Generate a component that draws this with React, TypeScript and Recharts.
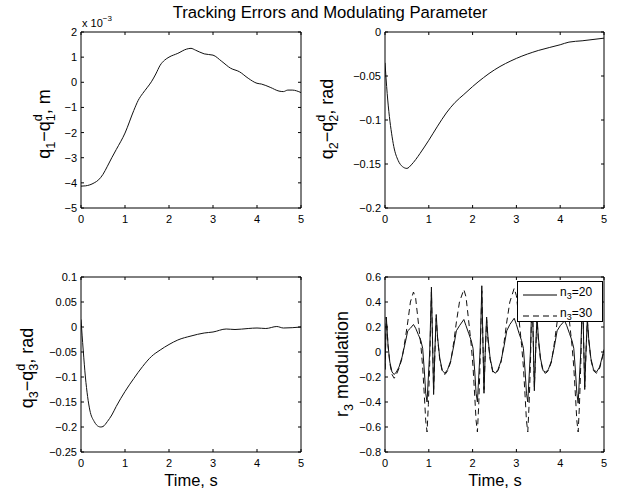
import { Legend, Line, LineChart, XAxis, YAxis } from 'recharts';

const W = 623;
const H = 490;
const FONT = '"Liberation Sans", Arial, Helvetica, sans-serif';

const X_TICKS = [0, 1, 2, 3, 4, 5];

// panel 1: q1 - q1d (x 10^-3 m)
const T1 = [0, 0.1, 0.2, 0.3, 0.4, 0.5, 0.6, 0.7, 0.8, 1.0, 1.2, 1.3, 1.4, 1.5, 1.6, 1.7, 1.8, 1.9, 2.0, 2.2, 2.4, 2.5, 2.6, 2.8, 3.0, 3.2, 3.4, 3.6, 3.8, 4.0, 4.1, 4.3, 4.5, 4.6, 4.7, 4.8, 5.0];
const Q1 = [-4.13, -4.12, -4.08, -4.0, -3.88, -3.66, -3.34, -3.0, -2.68, -2.02, -1.12, -0.72, -0.45, -0.22, 0.02, 0.33, 0.68, 0.88, 1.0, 1.15, 1.32, 1.35, 1.28, 1.13, 1.08, 0.83, 0.56, 0.42, 0.16, -0.04, -0.07, -0.2, -0.35, -0.37, -0.31, -0.31, -0.41];
const Y1_TICKS = [2, 1, 0, -1, -2, -3, -4, -5];

// panel 2: q2 - q2d (rad)
const T2 = [0, 0.05, 0.1, 0.15, 0.2, 0.3, 0.4, 0.5, 0.6, 0.7, 0.8, 1.0, 1.2, 1.4, 1.6, 1.8, 2.0, 2.5, 3.0, 3.5, 4.0, 4.2, 4.5, 5.0];
const Q2 = [-0.035, -0.07, -0.096, -0.115, -0.13, -0.146, -0.153, -0.155, -0.151, -0.145, -0.138, -0.123, -0.107, -0.092, -0.08, -0.071, -0.062, -0.043, -0.03, -0.021, -0.0145, -0.0115, -0.01, -0.007];
const Y2_TICKS = [0, -0.05, -0.1, -0.15, -0.2];

// panel 3: q3 - q3d (rad)
const T3 = [0, 0.05, 0.1, 0.15, 0.2, 0.3, 0.4, 0.45, 0.5, 0.6, 0.7, 0.8, 1.0, 1.2, 1.4, 1.6, 1.8, 2.0, 2.2, 2.5, 2.8, 3.0, 3.3, 3.5, 3.8, 4.0, 4.2, 4.45, 4.6, 5.0];
const Q3 = [0.015, -0.046, -0.1, -0.139, -0.166, -0.189, -0.199, -0.2, -0.199, -0.189, -0.176, -0.159, -0.129, -0.103, -0.079, -0.059, -0.046, -0.035, -0.026, -0.018, -0.012, -0.01, -0.004, -0.005, -0.003, -0.002, -0.003, 0.001, -0.002, 0];
const Y3_TICKS = [0.1, 0.05, 0, -0.05, -0.1, -0.15, -0.2, -0.25];

// panel 4: r3 modulation for n3 = 20 (solid) and n3 = 30 (dashed)
const N3 = [20, 30];
const T4 = [
  0, 0.03, 0.07, 0.11, 0.16, 0.21, 0.26, 0.32, 0.39, 0.46, 0.52, 0.58, 0.65, 0.7, 0.76, 0.82, 0.86, 0.9, 0.93, 0.96, 0.99, 1.02, 1.04, 1.06, 1.09, 1.11, 1.14, 1.17, 1.2, 1.25, 1.31, 1.37, 1.43, 1.5,
  1.57, 1.63, 1.7, 1.8, 1.85, 1.91, 1.97, 2.01, 2.05, 2.08, 2.11, 2.14, 2.17, 2.19, 2.21, 2.24, 2.26, 2.29, 2.32, 2.35, 2.4, 2.46, 2.52, 2.58, 2.65,
  2.72, 2.78, 2.85, 2.95, 3.0, 3.06, 3.12, 3.16, 3.2, 3.23, 3.26, 3.29, 3.32, 3.34, 3.36, 3.39, 3.41, 3.44, 3.47, 3.5, 3.55, 3.61, 3.67, 3.73, 3.8,
  3.87, 3.93, 4.0, 4.1, 4.15, 4.21, 4.27, 4.31, 4.35, 4.38, 4.41, 4.44, 4.47, 4.49, 4.51, 4.54, 4.56, 4.59, 4.62, 4.65, 4.7, 4.76, 4.83, 4.9, 4.96, 5.0,
];
const R20 = [
  -0.14, 0.28, 0.05, -0.08, -0.16, -0.18, -0.16, -0.12, -0.04, 0.07, 0.17, 0.19, 0.22, 0.19, 0.14, 0.09, 0.03, -0.16, -0.33, -0.4, -0.2, 0.0, 0.25, 0.52, 0.0, -0.34, 0.02, 0.3, 0.12, -0.05, -0.15, -0.17, -0.14, -0.07,
  0.05, 0.17, 0.21, 0.26, 0.21, 0.15, 0.09, 0.03, -0.16, -0.33, -0.4, -0.2, 0.0, 0.25, 0.53, 0.0, -0.33, 0.02, 0.28, 0.12, -0.05, -0.15, -0.17, -0.14, -0.07,
  0.05, 0.17, 0.22, 0.27, 0.22, 0.15, 0.09, 0.03, -0.16, -0.33, -0.4, -0.2, 0.0, 0.25, 0.52, 0.0, -0.31, 0.02, 0.29, 0.12, -0.05, -0.15, -0.16, -0.14, -0.07,
  0.05, 0.17, 0.21, 0.25, 0.21, 0.15, 0.09, 0.03, -0.16, -0.33, -0.41, -0.2, 0.0, 0.25, 0.5, 0.0, -0.3, 0.02, 0.27, 0.11, -0.05, -0.14, -0.16, -0.12, -0.04, 0.02,
];
const R30 = [
  -0.14, 0.28, 0.05, -0.09, -0.18, -0.21, -0.18, -0.13, -0.05, 0.1, 0.24, 0.4, 0.48, 0.43, 0.24, 0.05, -0.12, -0.36, -0.55, -0.64, -0.42, -0.1, 0.2, 0.48, 0.02, -0.3, 0.0, 0.27, 0.11, -0.06, -0.16, -0.18, -0.15, -0.08,
  0.08, 0.24, 0.4, 0.5, 0.44, 0.25, 0.05, -0.12, -0.36, -0.55, -0.64, -0.42, -0.1, 0.2, 0.49, 0.02, -0.3, 0.0, 0.26, 0.1, -0.06, -0.16, -0.17, -0.15, -0.08,
  0.08, 0.24, 0.4, 0.51, 0.45, 0.26, 0.05, -0.12, -0.36, -0.55, -0.64, -0.42, -0.1, 0.2, 0.48, 0.02, -0.28, 0.0, 0.27, 0.1, -0.06, -0.16, -0.17, -0.15, -0.08,
  0.08, 0.24, 0.4, 0.5, 0.44, 0.25, 0.05, -0.12, -0.36, -0.55, -0.64, -0.42, -0.1, 0.2, 0.47, 0.02, -0.28, 0.0, 0.25, 0.1, -0.06, -0.15, -0.17, -0.13, -0.05, 0.01,
];
const Y4_TICKS = [0.6, 0.4, 0.2, 0, -0.2, -0.4, -0.6, -0.8];

const data1 = T1.map((t, i) => ({ t, v: Q1[i] }));
const data2 = T2.map((t, i) => ({ t, v: Q2[i] }));
const data3 = T3.map((t, i) => ({ t, v: Q3[i] }));
const data4 = T4.map((t, i) => ({ t, a: R20[i], b: R30[i] }));

const fmt = (v: number) => String(v).replace('-', '\u2212');
const TL = 3; // inward tick length

function BottomTick({ x, y, payload }: any) {
  return (
    <g>
      <line x1={x} x2={x} y1={y} y2={y - TL} stroke="#000" />
      <text x={x} y={y + 15} textAnchor="middle" fontSize={11} fill="#000">{fmt(payload.value)}</text>
    </g>
  );
}
function TopTick({ x, y }: any) {
  return <line x1={x} x2={x} y1={y} y2={y + TL} stroke="#000" />;
}
function LeftTick({ x, y, payload }: any) {
  return (
    <g>
      <line x1={x} x2={x + TL} y1={y} y2={y} stroke="#000" />
      <text x={x - 4} y={y + 4} textAnchor="end" fontSize={11} fill="#000">{fmt(payload.value)}</text>
    </g>
  );
}
function RightTick({ x, y }: any) {
  return <line x1={x} x2={x - TL} y1={y} y2={y} stroke="#000" />;
}

type Box = { left: number; top: number; right: number; bottom: number };

function Panel({ data, box, domain, ticks, series, legend }: any) {
  const b: Box = box;
  const common = { type: 'number' as const, allowDataOverflow: true, interval: 0 as const, tickSize: 0, tickMargin: 0, tickLine: false, stroke: '#000' };
  return (
    <div style={{ position: 'absolute', left: 0, top: 0 }}>
      <LineChart width={W} height={H} data={data} margin={{ top: b.top - 1, left: b.left - 1, right: W - b.right - 1, bottom: H - b.bottom - 1 }}>
        <XAxis dataKey="t" domain={[0, 5]} ticks={X_TICKS} height={1} tick={BottomTick} {...common} />
        <XAxis xAxisId="top" orientation="top" dataKey="t" domain={[0, 5]} ticks={X_TICKS} height={1} tick={TopTick} {...common} />
        <YAxis domain={domain} ticks={ticks} width={1} tick={LeftTick} {...common} />
        <YAxis yAxisId="right" orientation="right" domain={domain} ticks={ticks} width={1} tick={RightTick} {...common} />
        {series.map((s: any) => (
          <Line
            key={s.key}
            dataKey={s.key}
            name={s.name}
            type={s.curve}
            stroke="#111"
            strokeWidth={1}
            strokeDasharray={s.dash}
            dot={false}
            isAnimationActive={false}
          />
        ))}
        {legend}
      </LineChart>
    </div>
  );
}

function LegendBox({ payload }: any) {
  return (
    <svg width={86} height={41} style={{ display: 'block', fontFamily: FONT }}>
      <rect x={0.5} y={0.5} width={85} height={40} fill="#fff" stroke="#000" />
      {(payload || []).map((e: any, i: number) => {
        const y = 14 + i * 21;
        return (
          <g key={i}>
            <line x1={6} x2={40} y1={y} y2={y} stroke="#000" strokeDasharray={e.payload?.strokeDasharray} />
            <text x={43} y={y + 1} fontSize={12} fill="#000">
              n<tspan fontSize={9} dy={3}>3</tspan><tspan dy={-3}>={N3[i]}</tspan>
            </text>
          </g>
        );
      })}
    </svg>
  );
}

// rotated label with sub/superscripts: kind n = normal, sub = subscript, sup = stacked superscript
function YLabel({ x, y, parts }: { x: number; y: number; parts: [string, string][] }) {
  let shift = 0;
  return (
    <text x={x} y={y} transform={`rotate(-90 ${x} ${y})`} textAnchor="middle" fontSize={18} fill="#000">
      {parts.map(([s, k], i) => {
        const target = k === 'sub' ? 5 : k === 'sup' ? -8 : 0;
        const dy = target - shift;
        shift = target;
        return (
          <tspan key={i} dy={dy} dx={k === 'sup' ? -7 : 0} fontSize={k === 'n' ? undefined : 12.6}>{s}</tspan>
        );
      })}
    </text>
  );
}

const qParts = (n: string, unit: string): [string, string][] => [
  ['q', 'n'], [n, 'sub'], ['\u2212q', 'n'], [n, 'sub'], ['d', 'sup'], [`, ${unit}`, 'n'],
];

export default function App() {
  return (
    <div style={{ position: 'absolute', left: 0, top: 0, width: W, height: H, background: '#fff', fontFamily: FONT, overflow: 'hidden' }}>
      <Panel data={data1} box={{ left: 81, top: 32, right: 301, bottom: 208 }} domain={[-5, 2]} ticks={Y1_TICKS}
        series={[{ key: 'v', curve: 'monotone' }]} />
      <Panel data={data2} box={{ left: 385, top: 32, right: 604, bottom: 208 }} domain={[-0.2, 0]} ticks={Y2_TICKS}
        series={[{ key: 'v', curve: 'monotone' }]} />
      <Panel data={data3} box={{ left: 81, top: 277, right: 301, bottom: 452 }} domain={[-0.25, 0.1]} ticks={Y3_TICKS}
        series={[{ key: 'v', curve: 'monotone' }]} />
      <Panel data={data4} box={{ left: 385, top: 277, right: 604, bottom: 452 }} domain={[-0.8, 0.6]} ticks={Y4_TICKS}
        series={[
          { key: 'a', name: `n3=${N3[0]}`, curve: 'linear' },
          { key: 'b', name: `n3=${N3[1]}`, curve: 'linear', dash: '6 4' },
        ]}
        legend={<Legend layout="vertical" align="center" verticalAlign="middle" content={LegendBox}
          wrapperStyle={{ left: 517, top: 281, width: 86, height: 41 }} />} />
      <svg width={W} height={H} style={{ position: 'absolute', left: 0, top: 0, pointerEvents: 'none' }}>
        <text x={330} y={18} textAnchor="middle" fontSize={16.7} fill="#000">Tracking Errors and Modulating Parameter</text>
        <text x={82} y={27} fontSize={11} fill="#000">x 10<tspan fontSize={8} dy={-6}>{'\u22123'}</tspan></text>
        <YLabel x={50} y={124} parts={qParts('1', 'm')} />
        <YLabel x={333} y={119} parts={qParts('2', 'rad')} />
        <YLabel x={33} y={368} parts={qParts('3', 'rad')} />
        <YLabel x={348} y={364} parts={[['r', 'n'], ['3', 'sub'], [' modulation', 'n']]} />
        <text x={191} y={486} textAnchor="middle" fontSize={16.5} fill="#000">Time, s</text>
        <text x={495} y={486} textAnchor="middle" fontSize={16.5} fill="#000">Time, s</text>
      </svg>
    </div>
  );
}
